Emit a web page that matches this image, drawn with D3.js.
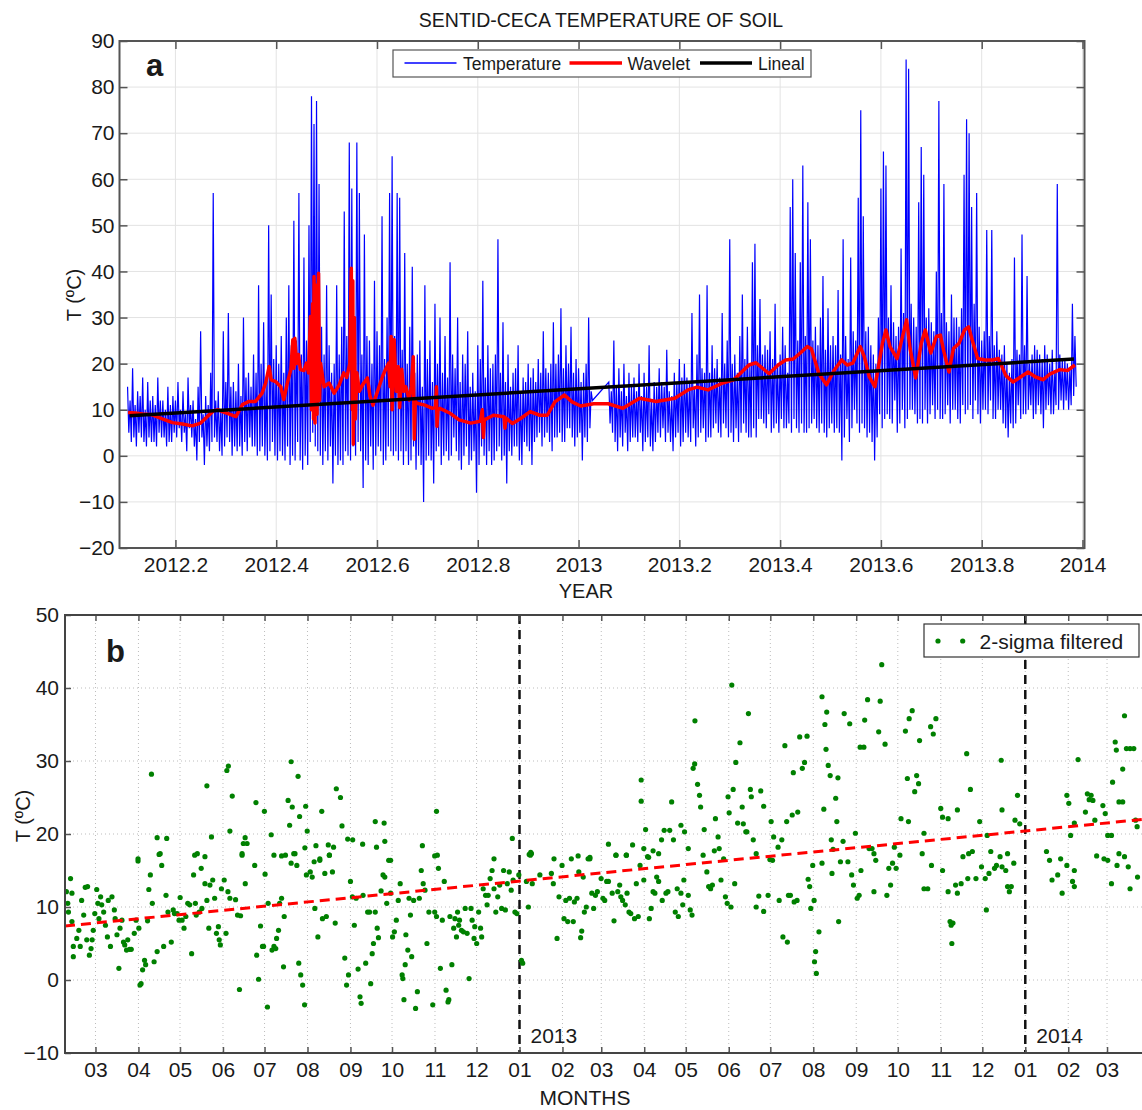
<!DOCTYPE html>
<html>
<head>
<meta charset="utf-8">
<script src="https://cdn.jsdelivr.net/npm/d3@7"></script>
<style>
  body { margin: 0; background: #fff; }
  text { font-family: "Liberation Sans", Arial, Helvetica, sans-serif; fill: #1a1a1a; }
</style>
</head>
<body>
<div id="chart"></div>
<script>
// ---------------- data: panel a ----------------
const yearTicks = [2012.2, 2012.4, 2012.6, 2012.8, 2013, 2013.2, 2013.4, 2013.6, 2013.8, 2014];
const tempTicksA = [-20, -10, 0, 10, 20, 30, 40, 50, 60, 70, 80, 90];

// soil temperature read as local highs / lows every 0.005 year
// (high at t, low at t + half a step), two pieces with a short gap early 2013
const tempStep = 0.005;
const tempStartA = 2012.105;
const tempHighA = [
  15, 12, 19, 11, 14, 13, 17, 10, 16, 12,
  13, 11, 17, 12, 12, 10, 15, 11, 13, 12,
  16, 10, 14, 9, 17, 11, 12, 8, 15, 27,
  9, 13, 11, 18, 57, 12, 14, 10, 27, 16,
  31, 15, 16, 14, 20, 13, 30, 17, 18, 15,
  22, 18, 37, 20, 29, 16, 50, 35, 21, 24,
  20, 26, 18, 30, 37, 24, 51, 25, 57, 22,
  43, 25, 50, 78, 72, 77, 59, 28, 22, 37,
  24, 18, 20, 37, 22, 28, 53, 26, 68, 58,
  30, 68, 57, 22, 48, 26, 25, 20, 38, 27,
  24, 52, 21, 30, 57, 65, 26, 57, 56, 23,
  44, 20, 28, 41, 18, 22, 25, 15, 37, 21,
  25, 16, 33, 20, 30, 18, 26, 17, 42, 22,
  19, 30, 16, 22, 20, 27, 15, 18, 14, 24,
  21, 38, 17, 24, 19, 20, 22, 47, 18, 29,
  16, 22, 15, 18, 19, 24, 14, 17, 16, 20,
  17, 19, 16, 21, 18, 27, 19, 18, 20, 29,
  20, 22, 32, 19, 24, 20, 28, 18, 21, 19,
  16, 18, 20, 30, 14
];
const tempLowA = [
  5, 3, 4, 2, 5, 4, 3, 2, 4, 3,
  3, 2, 5, 4, 4, 2, 3, 3, 5, 4,
  6, 3, 5, 1, 6, 4, 2, -1, 3, 4,
  -2, 2, 1, 3, 4, 3, 1, 0, 2, 4,
  3, 0, 2, 1, 2, 0, 3, 1, 4, 2,
  2, 0, 1, 2, 0, -1, 1, 3, 0, -1,
  1, 0, -1, 2, -2, 0, -1, 3, -1, -3,
  0, -2, 3, 5, 2, 1, 0, -2, 1, -1,
  2, -6, 0, -2, -1, -2, 1, 0, -1, 2,
  0, 3, 1, -7, -1, -2, 2, -3, 0, 2,
  1, -2, -1, 2, 1, 0, 1, -1, 1, -2,
  1, -2, -1, 2, -3, 0, -2, -10, -1, 0,
  -1, -6, 1, 2, -2, 0, 1, -1, 0, 4,
  1, -1, -3, 0, 2, -2, -1, 1, -8, -2,
  2, 0, -2, 1, -2, -1, 1, 2, -1, 0,
  -6, 1, 0, 2, 2, -1, -2, 3, 2, 1,
  -2, 3, 4, 5, 2, 4, 5, 3, 1, 4,
  4, 5, 3, 3, 6, 6, 4, 2, 4, 5,
  -1, 4, 3, 6, 12
];
const tempStartB = 2013.06;
const tempHighB = [
  16, 14, 25, 15, 19, 14, 20, 13, 18, 15,
  17, 14, 20, 13, 18, 15, 24, 12, 16, 15,
  19, 16, 15, 23, 14, 13, 18, 16, 21, 17,
  20, 17, 16, 31, 15, 22, 35, 19, 18, 37,
  18, 24, 19, 21, 17, 31, 20, 25, 47, 20,
  22, 18, 26, 35, 21, 28, 20, 42, 46, 24,
  34, 22, 24, 23, 27, 21, 33, 20, 22, 28,
  24, 18, 54, 60, 44, 25, 42, 63, 26, 55,
  47, 25, 28, 24, 30, 39, 23, 32, 24, 26,
  24, 36, 22, 47, 26, 21, 43, 27, 25, 56,
  75, 52, 27, 28, 24, 22, 20, 30, 58, 66,
  63, 30, 37, 29, 26, 28, 45, 31, 86, 84,
  33, 30, 28, 55, 67, 61, 30, 32, 29, 27,
  40, 77, 31, 59, 29, 27, 35, 30, 30, 28,
  32, 61, 73, 70, 54, 33, 57, 28, 25, 27,
  49, 26, 49, 24, 27, 23, 22, 24, 20, 18,
  21, 43, 23, 22, 48, 24, 39, 20, 22, 24,
  23, 22, 21, 24, 22, 20, 23, 18, 59, 22,
  21, 21, 20, 19, 33, 26
];
const tempLowB = [
  7, 5, 3, 1, 4, 2, 5, 1, 3, 4,
  4, 3, 5, 1, 3, 4, 2, 1, 3, 5,
  4, 6, 3, 5, 3, 1, 4, 5, 2, 3,
  5, 4, 3, 6, 2, 4, 5, 6, 3, 4,
  4, 6, 7, 5, 4, 7, 6, 4, 5, 3,
  6, 3, 5, 7, 5, 4, 4, 6, 4, 8,
  8, 7, 6, 9, 5, 6, 7, 5, 8, 6,
  6, 7, 5, 8, 6, 5, 7, 5, 5, 6,
  7, 8, 6, 5, 7, 5, 4, 6, 7, 5,
  6, 5, -1, 4, 8, 3, 6, 10, 7, 5,
  7, 6, 4, 5, 3, -1, 4, 9, 6, 8,
  9, 8, 7, 12, 5, 7, 10, 6, 8, 10,
  10, 9, 7, 8, 7, 10, 7, 9, 11, 8,
  10, 8, 8, 9, 11, 7, 10, 10, 8, 7,
  11, 9, 10, 11, 8, 12, 9, 7, 10, 10,
  9, 12, 8, 8, 10, 10, 7, 6, 4, 7,
  6, 7, 11, 8, 9, 9, 10, 11, 8, 9,
  11, 9, 6, 10, 11, 9, 9, 11, 10, 12,
  10, 12, 10, 11, 13, 15
];

// wavelet filtered curve [year, T]
const wavelet = [
  [2012.106, 9.4], [2012.12, 9.3], [2012.135, 9.1], [2012.154, 8.9], [2012.174, 8.0], [2012.194, 7.2],
  [2012.214, 6.9], [2012.233, 6.5], [2012.25, 7.1], [2012.263, 8.5], [2012.276, 9.8], [2012.285, 10.0],
  [2012.293, 9.6], [2012.306, 9.1], [2012.32, 8.5], [2012.333, 11.1], [2012.346, 11.8], [2012.359, 11.8],
  [2012.372, 13.6], [2012.379, 15.8], [2012.386, 19.4], [2012.39, 16.5], [2012.399, 16.1], [2012.409, 15.0],
  [2012.415, 12.2], [2012.422, 15.8], [2012.429, 18.7], [2012.433, 25.2], [2012.435, 19], [2012.437, 25.5],
  [2012.44, 20], [2012.444, 22], [2012.448, 18.7], [2012.455, 18.5], [2012.46, 20.1], [2012.464, 18],
  [2012.468, 30.2], [2012.47, 10], [2012.472, 33], [2012.474, 8], [2012.475, 38.9], [2012.477, 7.1],
  [2012.479, 37], [2012.481, 9], [2012.484, 39.6], [2012.486, 12], [2012.488, 20.1], [2012.495, 15.0],
  [2012.505, 15.8], [2012.515, 13.6], [2012.525, 15.4], [2012.534, 18], [2012.54, 17], [2012.546, 20],
  [2012.548, 35], [2012.549, 40.7], [2012.551, 10], [2012.552, 38], [2012.553, 2.5], [2012.555, 30],
  [2012.557, 8], [2012.56, 18], [2012.565, 14], [2012.572, 15.5], [2012.581, 16.9], [2012.586, 13],
  [2012.592, 11], [2012.598, 13], [2012.604, 15], [2012.611, 17.2], [2012.618, 19], [2012.623, 20.1],
  [2012.626, 15], [2012.628, 25.9], [2012.63, 10], [2012.632, 24], [2012.634, 25.2], [2012.638, 14],
  [2012.642, 19.4], [2012.645, 10.5], [2012.649, 18.8], [2012.653, 14], [2012.657, 15], [2012.664, 12.1],
  [2012.668, 15], [2012.672, 21.5], [2012.674, 3.6], [2012.676, 12], [2012.679, 11.4], [2012.695, 11],
  [2012.71, 10.3], [2012.716, 10.5], [2012.718, 15], [2012.719, 6.4], [2012.721, 10], [2012.725, 10.3],
  [2012.744, 9.3], [2012.763, 7.8], [2012.786, 7.1], [2012.805, 7.5], [2012.809, 10], [2012.811, 4],
  [2012.813, 7.8], [2012.831, 8.8], [2012.852, 8.5], [2012.854, 6], [2012.856, 8.2], [2012.869, 7],
  [2012.885, 8.1], [2012.904, 9.6], [2012.923, 8.8], [2012.938, 8.8], [2012.953, 11.7], [2012.972, 13.2],
  [2012.987, 11.7], [2013.004, 10.8], [2013.03, 11.3], [2013.059, 11.3], [2013.088, 10.3], [2013.121, 12.5],
  [2013.154, 11.8], [2013.191, 12.5], [2013.217, 14.3], [2013.235, 14.9], [2013.257, 14.3], [2013.286, 15.8],
  [2013.308, 16.5], [2013.338, 19.7], [2013.352, 20.2], [2013.378, 17.8], [2013.396, 19.7], [2013.411, 20.8],
  [2013.426, 21], [2013.44, 22.3], [2013.454, 23.7], [2013.462, 23.2], [2013.477, 17.8], [2013.492, 15.4],
  [2013.507, 18.5], [2013.522, 20.8], [2013.533, 19.7], [2013.544, 20.1], [2013.559, 23.7], [2013.567, 21.5],
  [2013.577, 17.1], [2013.588, 15], [2013.595, 19.3], [2013.603, 24.4], [2013.61, 27.3], [2013.618, 23.7],
  [2013.632, 21.1], [2013.643, 25.9], [2013.651, 29.5], [2013.658, 23.2], [2013.669, 16.9], [2013.68, 24.4],
  [2013.688, 27.3], [2013.699, 22.3], [2013.71, 25.9], [2013.718, 26.2], [2013.725, 22.6], [2013.735, 18.2],
  [2013.744, 23.3], [2013.755, 24.4], [2013.766, 27.3], [2013.774, 28], [2013.781, 25.2], [2013.792, 21.1],
  [2013.807, 20.8], [2013.822, 20.8], [2013.833, 21.1], [2013.848, 17.4], [2013.862, 16], [2013.877, 17.1],
  [2013.892, 18.2], [2013.907, 17.1], [2013.922, 16.5], [2013.936, 17.8], [2013.955, 18.7], [2013.97, 18.5],
  [2013.985, 19.7]
];

// linear fit ("Lineal")
const linealYears = [2012.109, 2013.983];
const linealT = [8.7, 21.0];

// ---------------- data: panel b ----------------
const tempTicksB = [-10, 0, 10, 20, 30, 40, 50];
// 2-sigma filtered daily values: [day since 2012-01-01, T]
const filtered = [
  [39,12.1],[40,10.5],[40.5,9.3],[42,13.9],[43,11.9],[43,8.0],[44,4.6],[44,3.2],[46.5,5.7],[48,6.8],
  [49,4.6],[50,10.9],[51.5,8.9],[52.6,12.7],[53.7,5.5],[54.3,12.8],[55.6,3.4],[56.8,4.3],[57.6,5.5],[58.4,6.8],
  [59.5,9.1],[60.9,12.4],[61.7,10.5],[62.5,8.4],[63.7,11.4],[64.5,10.3],[65.9,9.3],[67.2,7.5],[68.6,5.9],[69.2,10.9],
  [70.8,4.6],[71.9,11.4],[73.6,9.6],[74.2,8.4],[75.5,6.2],[76.9,1.6],[77.7,7.1],[79.1,8.2],[80.2,5.2],[81.1,4.8],
  [82.4,4.1],[83.3,5.5],[84.6,4.2],[85.8,4.2],[88,6.4],[89.3,8.2],[90.7,16.3],[91.3,7.1],[92.1,-0.7],[92.9,-0.5],
  [94,1.4],[95.4,2.7],[96.2,2.1],[97.6,8.1],[98.5,12.4],[99.6,14.4],[101,10.5],[102.3,2.5],[104.5,3.9],[106.7,17.3],
  [107.8,15.7],[109.2,4.6],[110.9,11.6],[112.3,9.3],[114.7,5.2],[116.1,9.6],[117,9.1],[118.9,9.1],[120.3,8.2],[121.1,11.3],
  [122.5,8.2],[123.9,7.1],[125.2,8.7],[126.6,10.5],[128,10.3],[129.4,3.6],[130.8,14.4],[132.1,10.5],[132.7,8.9],[133.5,17.3],
  [134.9,9.3],[136.3,15.3],[136.8,9.8],[139,13.2],[140.4,10.9],[141.8,7.1],[142.6,13],[144.6,13.7],[146,11.2],[147.3,6.4],
  [148.7,7.3],[149.3,5.5],[150.1,4.8],[150.9,12.5],[152.9,13.7],[154.2,6.4],[155.6,12.1],[157,11.2],[161.1,11],[162.5,8.9],
  [163.9,-1.3],[164.7,8.8],[165.8,17.3],[168.1,13.2],[174.9,15.7],[176.3,3.4],[177.7,0.1],[179.1,7.4],[180.5,4.6],[181.3,4.6],
  [182.4,14.5],[184.1,-3.7],[184.6,10.5],[187.4,4.1],[188.8,4.6],[190.1,4.3],[190.7,5.7],[192.1,6.8],[192.9,10.5],[194.3,11.2],
  [195.7,1.8],[196.2,8.7],[197.1,17.1],[201.2,16],[204,17.3],[205.3,15.7],[206.7,2.3],[208.1,0.7],[209.5,-0.7],[210.9,-3.4],
  [212.2,14.4],[215,14.8],[216.4,14.1],[217.8,16.2],[218.3,9.8],[220.5,5.9],[221.9,16.4],[223.8,8.4],[225.5,14.6],[226.6,8.7],
  [228.8,17.1],[231,14.8],[233,7.8],[239.9,3],[241.2,-0.7],[242.6,0.7],[244,13.5],[245.4,11.4],[246.8,7.5],[248.1,11.2],
  [249.5,1.5],[250.9,-2.3],[251.7,-3.2],[253.1,11.6],[255,2.3],[256.4,9.3],[257.8,9.3],[258.6,-0.5],[259.7,3.6],[260.6,5],
  [261.9,9.3],[263.3,7.1],[264.2,5.8],[266.1,12.2],[267.5,14.4],[268.8,14.1],[270.2,10.5],[271.6,16.4],[273,11.9],[274.4,5.9],
  [275.7,6.6],[277.1,8.2],[278.5,10.9],[279.9,13.2],[281.3,0.7],[281.8,0.2],[282.6,-2.7],[283.5,2.1],[284,6.2],[285.4,4.1],
  [286.3,11.2],[287.3,8.9],[288.2,3.2],[289.6,10.9],[291,-3.9],[292.3,-1.6],[293.7,11.2],[295.1,15],[296.5,13.2],[297.8,12.3],
  [299.2,5],[300.6,9.3],[303.4,-3.4],[304.8,9.3],[306.1,8.7],[306.7,17.1],[307.5,15.3],[308.9,1.6],[310.3,8.2],[311.7,13.5],
  [313,-1.4],[314.4,-3],[315,-2.7],[315.8,8.7],[317.2,2.1],[318.5,7.1],[319.4,8.4],[320.5,5.9],[321.3,9.3],[322.1,7.5],
  [322.7,8.2],[324.1,6.8],[325.5,6.6],[326.8,9.8],[328.2,6.4],[329.6,0.2],[331,9.8],[331.8,8.2],[333.2,5.7],[333.7,7.3],
  [335.1,5],[336.5,9.3],[337.9,7.1],[338.7,5.9],[339.8,12.5],[341.5,11.6],[342.6,10.3],[343.4,11.6],[344.8,13.9],[346.2,15],
  [347.6,12.5],[348.9,9.3],[350.3,11.4],[351.7,13],[353.1,9.8],[354.5,15],[355.8,9.6],[357.2,13.2],[358.6,14.8],[360,12.3],
  [361.4,13.7],[362.7,9.3],[364.1,9.1],[365.5,14.4],[367.4,2.7],[368.3,2.3],[371,13.5],[372.4,10],[373.8,17.1],[374.6,17.3],
  [375.2,13.2],[380.7,14.4],[389,14.6],[390.4,13.2],[393.1,5.7],[394.5,11.4],
  [90.7,16.6],[100.4,28.2],[104.5,19.5],[105.9,17.2],[111.4,19.4],[131.6,17.1],[139,16.9],[140.4,26.6],[143.7,19.6],[154.8,28.7],
  [155.9,29.3],[157,20.4],[158.7,25.2],[165.8,17.1],[166.7,18.7],[168,19.5],[169.4,18.7],[175.8,24.3],[181.9,23.1],[186.8,19.9],
  [188.8,17.1],[194.3,17],[199,24.6],[200.1,21.2],[201.2,29.9],[202,23.7],[203.1,17.3],[206.2,27.9],[207.3,22.4],[211.1,18.1],
  [211.7,23.8],[212.8,20.4],[219.1,18.4],[221.9,16.6],[223.3,23.1],[228,18.5],[228.8,17.1],[231.8,18.2],[233.8,26.2],[236.8,25],
  [237.9,21.1],[242,19.3],[245.6,19.2],[252.8,18.6],[261.9,21.7],[262.8,18.2],[268.3,21.5],[268.8,19],[273,16.4],[295.9,18.4],
  [304.8,17],[306.1,23.1],[347.6,16.6],[360.8,19.4],[373,17.2],[374.1,17.5],[390.9,16.6],[408.3,17],
  [416.8,16.8],[430.2,18.6],[435.6,17.1],[443.1,17.1],[447.6,18.5],[453.8,27.4],[453.8,24.5],[455.7,18],[457,20.6],[459.2,16.8],
  [462.4,17.7],[466.4,17.3],[468.5,19.2],[470.4,20.5],[474.4,20.5],[475.8,24.4],[477.1,19.2],[482.5,21.2],[485.1,20.3],[487.8,18],
  [491.3,29],[492.4,29.6],[492.6,35.5],[494.5,26.8],[495.9,25.3],[496.7,23.7],[499.3,20.6],[506.6,17.7],[507.4,22.1],[509.3,19.6],
  [510.1,18],[516.5,25.1],[517.3,22.9],[519.2,40.4],[520.2,26.1],[522.1,29.8],[523.4,21.5],[525.1,32.5],[526.7,23.7],[527.5,21.4],
  [529.3,20.3],[530.1,20.3],[531.2,36.5],[532.6,26.1],[533.3,25.1],[534.7,19.2],[536.8,17.3],[540.1,25.9],[542.2,23.8],[547.6,21.7],
  [549.4,19.6],[552.6,18.2],[555.3,19.2],[557.5,32.1],[558.8,21.7],[562.8,22.6],[563.6,28.4],[566.8,23],[568.2,33.3],[570.1,29],
  [571.7,29.8],[573.5,33.4],[584.3,38.8],[585.6,23.4],[586.4,35],[587.2,31.6],[587.7,36.7],[588.8,29.4],[590.2,28],[591,19.2],
  [592.3,17.9],[594.2,24.9],[595,21.7],[595.8,27.7],[599.5,19],[600.3,36.5],[604.3,35.1],[608.4,20.1],[611.8,31.9],[614.5,31.9],
  [615.1,35.6],[617.2,38.4],[618.3,18],[620.4,18],[621.8,17.3],[625.2,34],[626.3,38.2],[627.4,43.2],[629.8,32.3],[636.5,18.2],
  [641.3,22.1],[644.5,34.1],[645.9,27.6],[646.7,21.7],[647.2,35.8],[649.4,36.9],[651.2,25.8],[652.6,28],[654,26.9],[654.7,32.8],
  [656.6,17.3],[657.9,20.1],[662.7,34.7],[664.6,33.7],[666.5,35.8],[670,23.5],[671.3,22.3],[675.3,22.1],[682,23.3],[688.7,31],
  [690.1,17.3],[691.4,26.1],[698.1,21.7],[703.5,19.8],[713.6,30.1],[714.2,23.3],[718.2,17.3],[723.6,21.9],[725.4,25.3],[727,21.4],
  [761,25.3],[762.4,24.2],[763.7,19.8],[766.4,21.5],[769.1,30.2],[774.4,23],[775.8,25.5],[777.1,24.7],[778.5,25.3],[779.8,24.6],
  [781.2,21.9],[787,23.9],[788.7,22.8],[790.5,19.8],[793.2,19.8],[794,27.1],[795.9,32.6],[796.7,31.5],[798.6,24.4],[801.3,28.9],
  [801.3,24.4],[802.6,36.2],[804,31.7],[806.6,31.7],[809.3,31.7],[810.6,21.9],[811.7,21],
  [396.7,15.7],[398.1,8.4],[399.4,10.9],[400.8,8],[402.1,11.2],[403.4,16.6],[404.8,8],[405.6,10.7],[407.5,11.2],[408.8,14.8],
  [410.1,5.8],[410.9,6.7],[412,14.1],[412.8,9.3],[414.2,10],[415.5,16.6],[416.8,16.6],[418.2,11.9],[419.5,9.8],[420.8,11.6],
  [422.2,12.1],[424.9,13.9],[426.2,11.2],[427.5,10.9],[428.9,13.5],[430.2,13.5],[432.9,11.9],[434.2,8.1],[435.6,17.1],[436.9,12.1],
  [438.3,13],[439.1,11.4],[440.4,10.9],[442.3,10.3],[443.1,17.1],[443.6,11.9],[445,9.3],[446.3,9.1],[449,8.4],[450.3,13.2],
  [451.7,8.7],[453,15.7],[455.7,13.7],[458.4,16.9],[459.7,8.4],[461,9.8],[462.4,12.1],[463.7,11.9],[465,14.1],[466.4,13.5],
  [469,10.9],[471.7,11.9],[473.1,12.1],[478.4,9.3],[479.8,12.5],[480.6,8.7],[482.5,11.9],[483.8,10.3],[484.6,13.7],[487.8,11.6],
  [489.2,9.6],[490.5,8.9],[498.5,17.1],[501.2,14.8],[502.5,12.8],[503.9,12.5],[505.2,13],[511.4,13.7],[513.3,16.6],[514.6,11.4],
  [515.9,10.5],[518.6,10],[521.3,13.2],[536.8,10],[538.7,11.5],[542.2,9.4],[545.4,11.6],[546.7,16.5],[548.6,16.4],[553.4,10.9],
  [556.1,5.9],[559.3,5.2],[560.1,11.6],[561.5,11.6],[564.2,10.7],[566.3,10.9],[574.3,13.8],[575.4,12.8],[576.2,9.8],[577.6,15.7],
  [578.6,10.9],[578.9,2.5],[579.7,3.9],[580.2,0.9],[582.1,6.6],[584.3,16],[591.5,14.6],[596.3,8],[597.6,16.2],[603,16.2],
  [605.7,14.4],[607,13],[609.7,11.2],[611.1,11.6],[612.4,15],[621.8,12.1],[623.1,16.4],[631.1,11.6],[632.5,15.3],[633.8,13],
  [635.2,16],[637.8,15.3],[640.5,17.1],[657.9,12.5],[660.6,12.5],[663.3,15.7],[671.3,15],[675.3,12.1],[676.7,8],[677.5,7.5],
  [678.8,7.8],[678,5],[680.7,13],[682,11.9],[684.7,13.2],[686,16.9],[689.5,13.9],[692.8,17.6],[695.4,13.9],[699.4,15.5],
  [702.1,13.9],[702.9,9.6],[704.8,14.6],[706.1,17.6],[708.8,15.3],[710.2,15.7],[712.8,16.9],[714.2,15.5],[716.9,15],[718.2,12.8],
  [719.5,12.1],[720.9,12.8],[722.7,16],[746.3,17.6],[748.5,16.4],[750.3,13.7],[754.4,14.4],[756.5,16.6],[757.6,11.9],[761,15.7],
  [765.1,13.5],[766.4,15],[766.4,12.8],[782.5,17],[787.8,16.6],[790.5,16.4],[793.2,13.2],[797.2,15.7],[798.6,17.3],[802.6,16.9],
  [805.3,15.5],[806.6,12.5],[812,14.1]
];
// linear trend of the filtered values: [day, T]
const trendDays = [38, 821];
const trendT = [7.4, 22.1];
const yearMarks = [2013, 2014];

// ---------------- layout ----------------
const W = 1142, H = 1110;
const font = 21;
const svg = d3.select("#chart").append("svg")
    .attr("width", W)
    .attr("height", H);

const dayBase = +new Date(2012, 0, 1);
const dayToDate = d => new Date(dayBase + d * 864e5);

// =============== panel a ===============
const a = {left: 119.5, right: 1084.5, top: 41, bottom: 548};
const xA = d3.scaleLinear().domain([2012.089, 2014.004]).range([a.left, a.right]);
const yA = d3.scaleLinear().domain([-20, 90]).range([a.bottom, a.top]);

svg.append("defs").append("clipPath").attr("id", "clipA")
  .append("rect").attr("x", a.left).attr("y", a.top)
  .attr("width", a.right - a.left).attr("height", a.bottom - a.top);

// grid
const gridA = svg.append("g");
gridA.selectAll("line.gx").data(yearTicks).enter().append("line")
    .attr("x1", d => xA(d)).attr("x2", d => xA(d))
    .attr("y1", a.top).attr("y2", a.bottom)
    .attr("stroke", "#e3e3e3").attr("stroke-width", 1);
gridA.selectAll("line.gy").data(tempTicksA).enter().append("line")
    .attr("x1", a.left).attr("x2", a.right)
    .attr("y1", d => yA(d)).attr("y2", d => yA(d))
    .attr("stroke", "#e3e3e3").attr("stroke-width", 1);

// series: high, then low half a step later
function highLow(start, highs, lows) {
  const out = [];
  highs.forEach((h, i) => {
    out.push([start + i * tempStep, h]);
    out.push([start + (i + 0.5) * tempStep, lows[i]]);
  });
  return out;
}
const tempSeries = highLow(tempStartA, tempHighA, tempLowA)
  .concat(highLow(tempStartB, tempHighB, tempLowB));

const lineA = d3.line().x(d => xA(d[0])).y(d => yA(d[1]));
const plotA = svg.append("g").attr("clip-path", "url(#clipA)");
plotA.append("path").datum(tempSeries)
    .attr("d", lineA).attr("fill", "none")
    .attr("stroke", "#0000ff").attr("stroke-width", 1.2).attr("stroke-linejoin", "miter");
plotA.append("path").datum(wavelet)
    .attr("d", lineA).attr("fill", "none")
    .attr("stroke", "#ff0000").attr("stroke-width", 3.5).attr("stroke-linejoin", "round");
plotA.append("path").datum(linealYears.map((t, i) => [t, linealT[i]]))
    .attr("d", lineA).attr("fill", "none")
    .attr("stroke", "#000").attr("stroke-width", 3.5);

// axes (ticks pointing inward, MATLAB style)
const axB = svg.append("g").attr("transform", `translate(0,${a.bottom})`)
    .call(d3.axisBottom(xA).tickValues(yearTicks).tickSize(-8).tickSizeOuter(0).tickPadding(9)
      .tickFormat(d => String(+d.toFixed(1))));
const axL = svg.append("g").attr("transform", `translate(${a.left},0)`)
    .call(d3.axisLeft(yA).tickValues(tempTicksA).tickSize(-8).tickSizeOuter(0).tickPadding(5));
const axT = svg.append("g").attr("transform", `translate(0,${a.top})`)
    .call(d3.axisTop(xA).tickValues(yearTicks).tickSize(-8).tickSizeOuter(0).tickFormat(""));
const axR = svg.append("g").attr("transform", `translate(${a.right},0)`)
    .call(d3.axisRight(yA).tickValues(tempTicksA).tickSize(-8).tickSizeOuter(0).tickFormat(""));
[axB, axL, axT, axR].forEach(g => {
  g.select(".domain").remove();
  g.selectAll(".tick line").attr("stroke", "#555").attr("stroke-width", 1.5);
  g.selectAll("text").attr("font-size", font).attr("fill", "#1a1a1a")
    .attr("font-family", "'Liberation Sans', Arial, sans-serif");
});
svg.append("rect").attr("x", a.left).attr("y", a.top)
    .attr("width", a.right - a.left).attr("height", a.bottom - a.top)
    .attr("fill", "none").attr("stroke", "#555").attr("stroke-width", 2);

// labels
svg.append("text").attr("x", 601).attr("y", 27).attr("text-anchor", "middle")
    .attr("font-size", 19.5).text("SENTID-CECA TEMPERATURE OF SOIL");
svg.append("text").attr("x", 586).attr("y", 598).attr("text-anchor", "middle")
    .attr("font-size", 20).text("YEAR");
svg.append("text").attr("transform", "translate(81,295) rotate(-90)").attr("text-anchor", "middle")
    .attr("font-size", 20).text("T (ºC)");
svg.append("text").attr("x", 146).attr("y", 76)
    .attr("font-size", 31).attr("font-weight", "bold").text("a");

// legend a
const legA = svg.append("g");
legA.append("rect").attr("x", 393).attr("y", 50).attr("width", 418).attr("height", 27)
    .attr("fill", "#fff").attr("stroke", "#555").attr("stroke-width", 1.2);
const legItems = [
  {name: "Temperature", color: "#0000ff", w: 1.5, x0: 404.5, x1: 456.5, tx: 463},
  {name: "Wavelet", color: "#ff0000", w: 3.5, x0: 569.5, x1: 622, tx: 627.5},
  {name: "Lineal", color: "#000", w: 3.5, x0: 700, x1: 752, tx: 758}
];
legItems.forEach(d => {
  legA.append("line").attr("x1", d.x0).attr("x2", d.x1).attr("y1", 63).attr("y2", 63)
      .attr("stroke", d.color).attr("stroke-width", d.w);
  legA.append("text").attr("x", d.tx).attr("y", 69.5).attr("font-size", 17.5).text(d.name);
});

// =============== panel b ===============
const b = {left: 65, right: 1150, top: 615, bottom: 1053};
const xB = d3.scaleTime().domain([new Date(2012, 1, 8), new Date(2014, 3, 1)]).range([b.left, b.right]);
const yB = d3.scaleLinear().domain([-10, 50]).range([b.bottom, b.top]);
const monthTicks = d3.timeMonth.range(new Date(2012, 2, 1), new Date(2014, 3, 1));

svg.select("defs").append("clipPath").attr("id", "clipB")
  .append("rect").attr("x", b.left).attr("y", b.top)
  .attr("width", b.right - b.left).attr("height", b.bottom - b.top);

// dotted grid
const gridB = svg.append("g");
gridB.selectAll("line.gx").data(monthTicks).enter().append("line")
    .attr("x1", d => xB(d)).attr("x2", d => xB(d))
    .attr("y1", b.top).attr("y2", b.bottom)
    .attr("stroke", "#bdbdbd").attr("stroke-width", 1).attr("stroke-dasharray", "1,3");
gridB.selectAll("line.gy").data(tempTicksB).enter().append("line")
    .attr("x1", b.left).attr("x2", b.right)
    .attr("y1", d => yB(d)).attr("y2", d => yB(d))
    .attr("stroke", "#bdbdbd").attr("stroke-width", 1).attr("stroke-dasharray", "1,3");

const plotB = svg.append("g").attr("clip-path", "url(#clipB)");

// year separators
plotB.selectAll("line.year").data(yearMarks).enter().append("line")
    .attr("x1", d => xB(new Date(d, 0, 1))).attr("x2", d => xB(new Date(d, 0, 1)))
    .attr("y1", b.top).attr("y2", b.bottom)
    .attr("stroke", "#111").attr("stroke-width", 2.5).attr("stroke-dasharray", "9,6");
svg.selectAll("text.year").data(yearMarks).enter().append("text")
    .attr("x", d => xB(new Date(d, 0, 1)) + 11).attr("y", 1043)
    .attr("font-size", font).text(d => d);

// dots
plotB.selectAll("circle.dot").data(filtered).enter().append("circle")
    .attr("cx", d => xB(dayToDate(d[0])))
    .attr("cy", d => yB(d[1]))
    .attr("r", 2.6)
    .attr("fill", "#008000");

// trend
plotB.append("path").datum(trendDays.map((d, i) => [d, trendT[i]]))
    .attr("d", d3.line().x(d => xB(dayToDate(d[0]))).y(d => yB(d[1])))
    .attr("fill", "none").attr("stroke", "#ff0000").attr("stroke-width", 3)
    .attr("stroke-dasharray", "10,6");

// axes
const bxB = svg.append("g").attr("transform", `translate(0,${b.bottom})`)
    .call(d3.axisBottom(xB).tickValues(monthTicks).tickSize(-6).tickSizeOuter(0).tickPadding(9)
      .tickFormat(d3.timeFormat("%m")));
const bxT = svg.append("g").attr("transform", `translate(0,${b.top})`)
    .call(d3.axisTop(xB).tickValues(monthTicks).tickSize(-6).tickSizeOuter(0).tickFormat(""));
const byL = svg.append("g").attr("transform", `translate(${b.left},0)`)
    .call(d3.axisLeft(yB).tickValues(tempTicksB).tickSize(-6).tickSizeOuter(0).tickPadding(6));
[bxB, bxT, byL].forEach(g => {
  g.select(".domain").remove();
  g.selectAll(".tick line").attr("stroke", "#555").attr("stroke-width", 1.5);
  g.selectAll("text").attr("font-size", font).attr("fill", "#1a1a1a")
    .attr("font-family", "'Liberation Sans', Arial, sans-serif");
});
svg.append("path")
    .attr("d", `M${W + 5},${b.top}H${b.left}V${b.bottom}H${W + 5}`)
    .attr("fill", "none").attr("stroke", "#444").attr("stroke-width", 2);

// labels
svg.append("text").attr("x", 585).attr("y", 1105).attr("text-anchor", "middle")
    .attr("font-size", font).text("MONTHS");
svg.append("text").attr("transform", "translate(30,816) rotate(-90)").attr("text-anchor", "middle")
    .attr("font-size", 20).text("T (ºC)");
svg.append("text").attr("x", 106).attr("y", 662)
    .attr("font-size", 31).attr("font-weight", "bold").text("b");

// legend b
const legB = svg.append("g");
legB.append("rect").attr("x", 924).attr("y", 624).attr("width", 215).attr("height", 33)
    .attr("fill", "#fff").attr("stroke", "#333").attr("stroke-width", 1.2);
legB.selectAll("circle").data([938, 962.7]).enter().append("circle")
    .attr("cx", d => d).attr("cy", 641).attr("r", 2.6).attr("fill", "#008000");
legB.append("text").attr("x", 979.5).attr("y", 648.5).attr("font-size", font).text("2-sigma filtered");
</script>
</body>
</html>
